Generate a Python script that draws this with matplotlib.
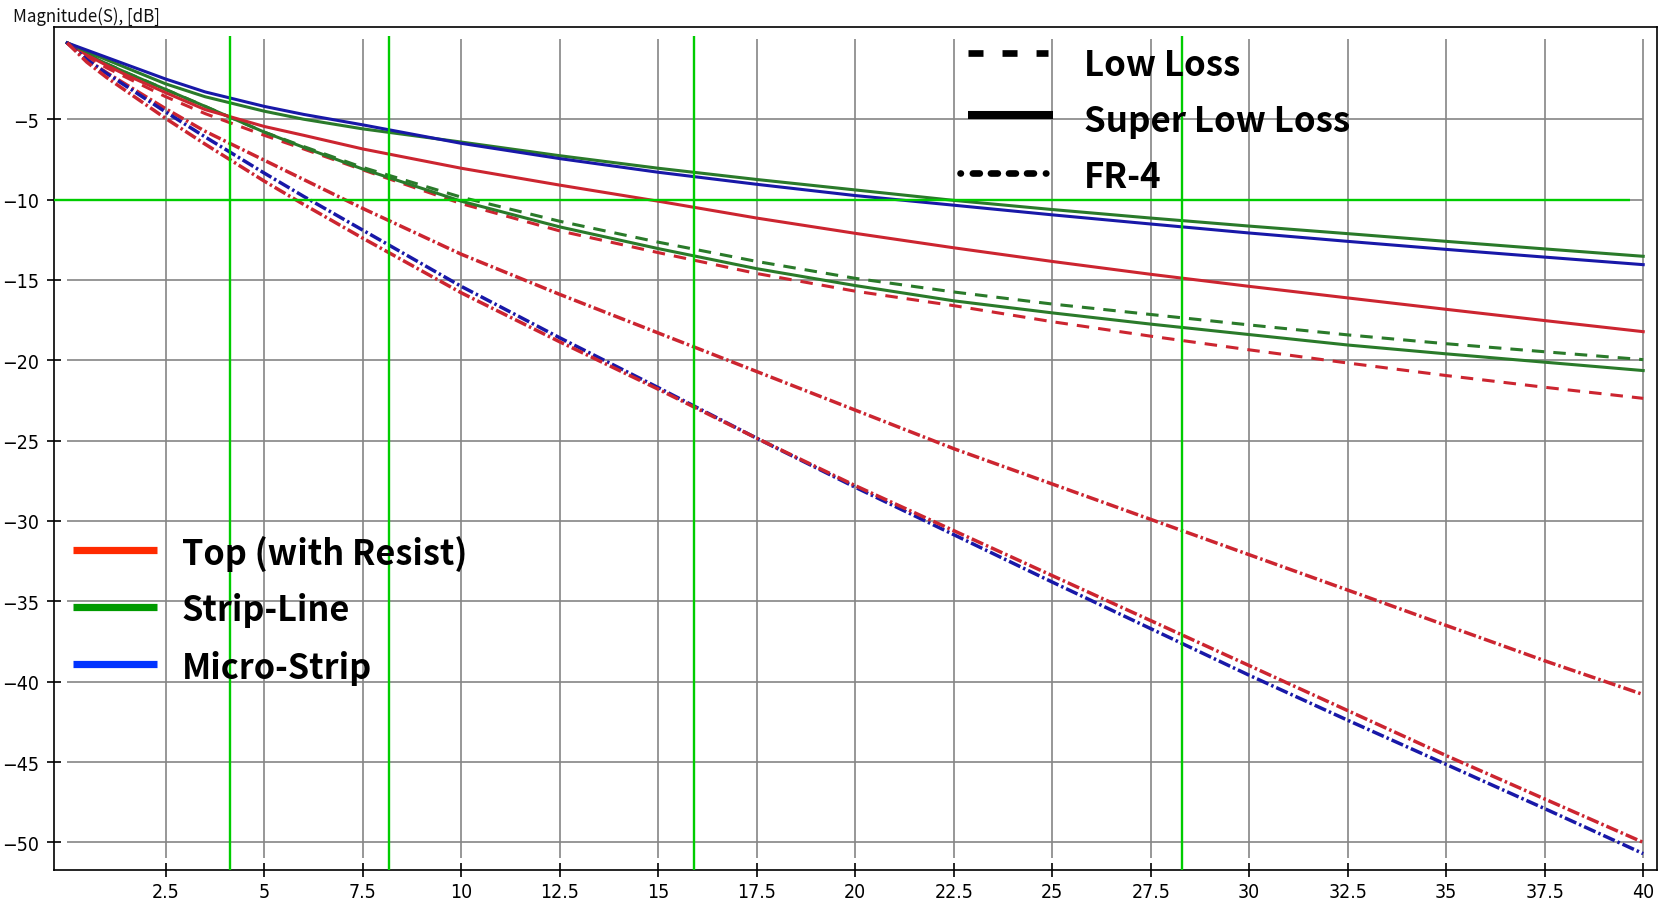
import matplotlib
matplotlib.use('Agg')
import matplotlib.pyplot as plt
from matplotlib import font_manager
from matplotlib.lines import Line2D

plt.rcParams['lines.scale_dashes'] = False

# ---------------- data ----------------
freq = [0, 0.5, 1, 1.5, 2.5, 3.5, 5, 6, 7.5, 10, 12.5, 15, 17.5, 20,
        22.5, 25, 27.5, 30, 32.5, 35, 37.5, 40]

# Super Low Loss (solid)
ms_super_low = [-0.25, -0.7, -1.15, -1.6, -2.5, -3.3, -4.2, -4.7, -5.35, -6.5, -7.45, -8.3,
                -9.05, -9.75, -10.35, -10.95, -11.52, -12.08, -12.6, -13.1, -13.58, -14.05]
sl_super_low = [-0.25, -0.8, -1.3, -1.8, -2.8, -3.6, -4.5, -5.0, -5.6, -6.42, -7.27, -8.05,
                -8.75, -9.4, -10.05, -10.62, -11.15, -11.65, -12.12, -12.6, -13.07, -13.53]
top_super_low = [-0.25, -1.0, -1.65, -2.25, -3.35, -4.4, -5.45, -6.0, -6.85, -8.05, -9.1, -10.1,
                 -11.15, -12.1, -13.0, -13.85, -14.65, -15.4, -16.12, -16.83, -17.53, -18.22]
sl_super_low_2 = [-0.25, -0.95, -1.55, -2.1, -3.15, -4.2, -5.8, -6.75, -8.1, -10.1, -11.7, -13.05,
                  -14.3, -15.35, -16.3, -17.05, -17.75, -18.4, -19.05, -19.6, -20.12, -20.64]
# Low Loss (dashed)
sl_low = [-0.25, -0.95, -1.55, -2.1, -3.15, -4.2, -5.8, -6.7, -8.0, -9.85, -11.35, -12.65,
          -13.85, -14.9, -15.75, -16.5, -17.15, -17.8, -18.42, -18.97, -19.47, -19.96]
top_low = [-0.25, -1.1, -1.8, -2.4, -3.6, -4.65, -6.0, -6.85, -8.15, -10.25, -11.95, -13.3,
           -14.6, -15.7, -16.6, -17.6, -18.5, -19.35, -20.17, -20.95, -21.68, -22.37]
# FR-4 (dash-dot)
top_fr4 = [-0.25, -1.3, -2.1, -2.85, -4.35, -5.75, -7.55, -8.75, -10.55, -13.4, -15.9, -18.3,
           -20.7, -23.1, -25.5, -27.7, -29.9, -32.1, -34.3, -36.5, -38.7, -40.8]
top_fr4_2 = [-0.25, -1.45, -2.4, -3.25, -4.95, -6.55, -8.85, -10.3, -12.4, -15.8, -18.85, -21.8,
             -24.85, -27.8, -30.6, -33.4, -36.2, -39.0, -41.8, -44.6, -47.3, -50.0]
ms_fr4 = [-0.25, -1.3, -2.15, -2.95, -4.55, -6.1, -8.35, -9.8, -11.9, -15.4, -18.6, -21.7,
          -24.85, -27.9, -30.85, -33.8, -36.7, -39.6, -42.4, -45.15, -47.9, -50.7]

marker_freqs = [4.13, 8.18, 15.9, 28.3]
marker_level = -10
marker_level_end = 39.67

x_ticks = [2.5, 5, 7.5, 10, 12.5, 15, 17.5, 20, 22.5, 25, 27.5, 30, 32.5, 35, 37.5, 40]
x_tick_labels = ['2.5', '5', '7.5', '10', '12.5', '15', '17.5', '20', '22.5', '25',
                 '27.5', '30', '32.5', '35', '37.5', '40']
y_ticks = [-5, -10, -15, -20, -25, -30, -35, -40, -45, -50]
y_tick_labels = ['\u22125', '\u221210', '\u221215', '\u221220', '\u221225', '\u221230',
                 '\u221235', '\u221240', '\u221245', '\u221250']

material_labels = ['Low Loss', 'Super Low Loss', 'FR-4']
layer_labels = ['Top (with Resist)', 'Strip-Line', 'Micro-Strip']
layer_colors = ['#ff2a00', '#009a00', '#0033ff']
title_text = 'Magnitude(S), [dB]'

# ---------------- styling ----------------
RED = '#cc2530'
GREEN = '#2a7a2a'
BLUE = '#1818a8'
MARK = '#00cc00'
DASH = (9.0, 6.5)
DASHDOT = (9.0, 2.2, 1.8, 2.2)

W, H = 1669, 904


def has_font(name):
    try:
        font_manager.findfont(font_manager.FontProperties(family=name),
                              fallback_to_default=False)
        return True
    except Exception:
        return False


tick_family = ['Liberation Sans Narrow', 'DejaVu Sans'] if has_font('Liberation Sans Narrow') else ['DejaVu Sans']
cjk = ['Noto Sans CJK JP', 'DejaVu Sans']

fig = plt.figure(figsize=(W / 100, H / 100), dpi=100)
fig.patch.set_facecolor('white')
left, right, top, bottom = 53.6, 1657, 28.3, 870.7
ax = fig.add_axes([left / W, 1 - bottom / H, (right - left) / W, (bottom - top) / H])
ax.set_xlim(-0.345, 40.35)
ax.set_ylim(-51.7, 0.72)

# grid
ax.hlines(y_ticks, 0, 40, colors='#858585', lw=1.2, zorder=1)
ax.vlines(x_ticks, -51.0, 0, colors='#858585', lw=1.2, zorder=1)

lw_s = 2.2
lw_d = 2.5
ax.plot(freq, sl_low, color=GREEN, lw=lw_s, dashes=DASH, zorder=3)
ax.plot(freq, top_low, color=RED, lw=lw_s, dashes=DASH, zorder=3)
ax.plot(freq, sl_super_low_2, color=GREEN, lw=lw_s, zorder=3)
ax.plot(freq, top_super_low, color=RED, lw=lw_s, zorder=3)
ax.plot(freq, sl_super_low, color=GREEN, lw=lw_s, zorder=3)
ax.plot(freq, ms_super_low, color=BLUE, lw=lw_s, zorder=3)
ax.plot(freq, top_fr4, color=RED, lw=lw_d, dashes=DASHDOT, zorder=3)
ax.plot(freq, ms_fr4, color=BLUE, lw=lw_d, dashes=DASHDOT, zorder=3)
ax.plot(freq, top_fr4_2, color=RED, lw=lw_d, dashes=DASHDOT, zorder=3)

# green marker lines
ax.vlines(marker_freqs, -51.7, 0.15, colors=MARK, lw=1.7, zorder=6)
ax.hlines([marker_level], -0.345, marker_level_end, colors=MARK, lw=1.7, zorder=6)

ax.set_xticks(x_ticks)
ax.set_xticklabels(x_tick_labels)
ax.set_yticks(y_ticks)
ax.set_yticklabels(y_tick_labels)
ax.tick_params(axis='both', direction='inout', length=9.5, width=1.2, color='black',
               labelsize=14)
ax.tick_params(axis='y', pad=5.5)
ax.tick_params(axis='x', pad=4.0)
for lab in ax.get_xticklabels() + ax.get_yticklabels():
    lab.set_family(tick_family)
    lab.set_fontstretch('condensed')
for sp in ax.spines.values():
    sp.set_color('black')
    sp.set_linewidth(1.2)


def fx(px):
    return px / W


def fy(py):
    return 1 - py / H


# title
t_title = fig.text(fx(12.7), fy(21.7), title_text, family=cjk, fontsize=11,
                   ha='left', va='baseline', color='#111111')

# material legend (top)
mat_base = [76.0, 132.0, 188.0]
mat_texts = [fig.text(fx(1084), fy(b), s, family=cjk, fontweight='bold', fontsize=20,
                      ha='left', va='baseline', color='black', zorder=5)
             for s, b in zip(material_labels, mat_base)]
fig.add_artist(Line2D([fx(968), fx(1048)], [fy(53.5)] * 2, transform=fig.transFigure,
                      color='black', lw=4.8, dashes=(10.8, 13.7), solid_capstyle='butt',
                      dash_capstyle='butt'))
fig.add_artist(Line2D([fx(968), fx(1053)], [fy(115.5)] * 2, transform=fig.transFigure,
                      color='black', lw=5.8, solid_capstyle='butt'))
fig.add_artist(Line2D([fx(960), fx(1051)], [fy(174)] * 2, transform=fig.transFigure,
                      color='black', lw=4.8, dash_capstyle='round',
                      dashes=(0.3, 8.6, 5.0, 8.0, 5.0, 8.0, 5.0, 8.0, 5.0, 8.6, 0.3, 30)))

# layer legend (bottom-left)
bar_y = [550.5, 607.8, 665.3]
lay_base = [564.5, 621.5, 679.0]
for c, y in zip(layer_colors, bar_y):
    fig.add_artist(Line2D([fx(72.5), fx(157)], [fy(y)] * 2, transform=fig.transFigure,
                          color=c, lw=5.2, solid_capstyle='butt'))
lay_texts = [fig.text(fx(181.5), fy(b), s, family=cjk, fontweight='bold', fontsize=22,
                      ha='left', va='baseline', color='black', zorder=5)
             for s, b in zip(layer_labels, lay_base)]

# fit font sizes to the widths seen in the reference
fig.canvas.draw()
renderer = fig.canvas.get_renderer()


def fit(texts, ref_text, target):
    w = ref_text.get_window_extent(renderer).width
    s = ref_text.get_fontsize() * target / w
    for t in texts:
        t.set_fontsize(s)


fit([t_title], t_title, 147)
fit(mat_texts, mat_texts[1], 267)
fit(lay_texts, lay_texts[0], 285)

fig.savefig('out.png', dpi=100, facecolor='white')
